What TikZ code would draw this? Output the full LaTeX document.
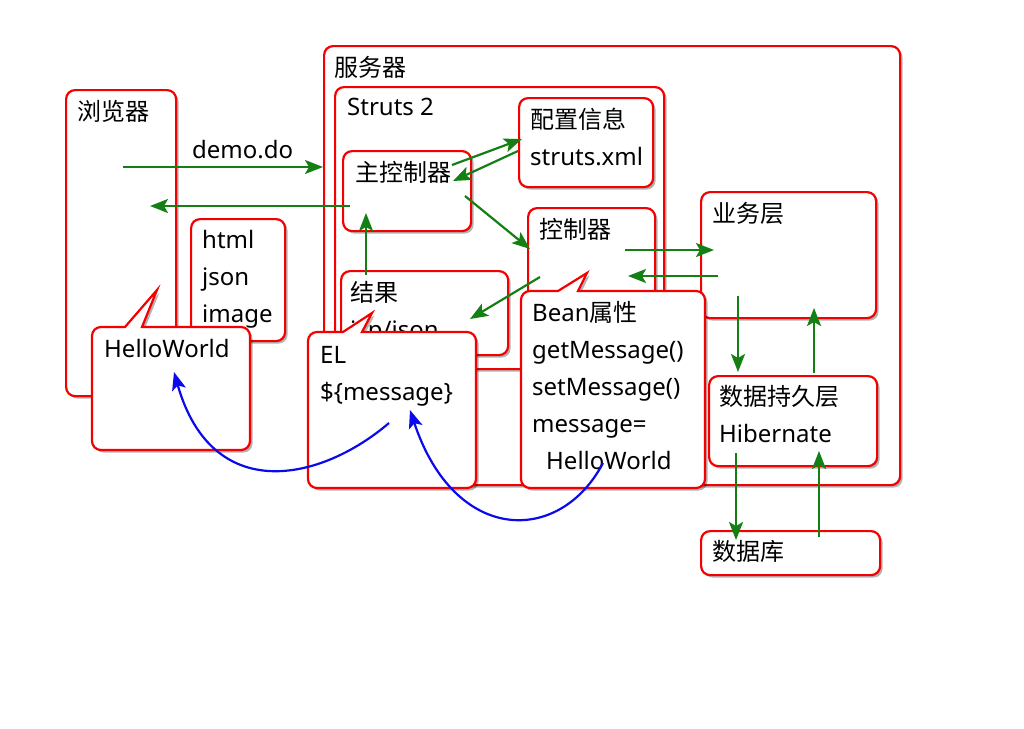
\documentclass[tikz,border=0pt]{standalone}
\usepackage{fontspec}
\setmainfont{Noto Sans}
\newfontfamily\cjk{Noto Sans CJK SC}
\usetikzlibrary{arrows.meta,shadows,positioning}

\definecolor{boxred}{RGB}{245,0,0}
\definecolor{flowgreen}{RGB}{20,128,20}
\definecolor{refblue}{RGB}{10,10,235}

\tikzset{
  box/.style={draw=boxred, line width=2.2pt, fill=white, rounded corners=9pt, anchor=north west,
    drop shadow={shadow xshift=2.5pt, shadow yshift=-2.5pt, opacity=0.3, fill=black}},
  txt/.style={anchor=base west, inner sep=0pt, align=left, font=\fontsize{24}{37}\selectfont},
  flow/.style={draw=flowgreen, line width=2.2pt, -{Stealth[length=18pt,width=14pt,inset=4pt]}},
  getref/.style={draw=refblue, line width=2.2pt, -{Stealth[length=18pt,width=14pt,inset=4pt]}},
}

\begin{document}
\begin{tikzpicture}[x=1pt,y=-1pt]
  \useasboundingbox (0,0) rectangle (1024,728);

  % server and struts
  \node[box, minimum width=576pt, minimum height=439pt] (srv) at (323,45) {};
  \node[txt] (srvt) at (334,76) {\cjk 服务器};
  \node[box, minimum width=329pt, minimum height=282pt] (struts) at (334,86) {};
  \node[txt] (strutst) at (347,115) {Struts 2};

  % browser side
  \node[box, minimum width=110pt, minimum height=306pt] (brw) at (65,89) {};
  \node[txt] (brwt) at (77,120) {\cjk 浏览器};
  \node[box, minimum width=94pt, minimum height=122pt] (fmt) at (190,218) {};
  \node[txt] (fmtt) at (202,322) {html\\json\\image};

  % inside struts
  \node[box, minimum width=128pt, minimum height=80pt] (main) at (342,150) {};
  \node[txt] (maint) at (355,181) {\cjk 主控制器};
  \node[box, minimum width=134pt, minimum height=89pt] (cfg) at (518,97) {};
  \node[txt] (cfgt) at (530,165) {{\cjk 配置信息}\\struts.xml};
  \node[box, minimum width=127pt, minimum height=110pt] (ctl) at (527,207) {};
  \node[txt] (ctlt) at (539,238) {\cjk 控制器};
  \node[box, minimum width=167pt, minimum height=84pt] (res) at (340,270) {};
  \node[txt] (rest) at (350,338) {{\cjk 结果}\\jsp/json};

  % back end
  \node[box, minimum width=175pt, minimum height=126pt] (biz) at (700,191) {};
  \node[txt] (bizt) at (712,222) {\cjk 业务层};
  \node[box, minimum width=168pt, minimum height=90pt] (dao) at (708,375) {};
  \node[txt] (daot) at (719,442) {{\cjk 数据持久层}\\Hibernate};
  \node[box, minimum width=179pt, minimum height=44pt] (db) at (700,530) {};
  \node[txt] (dbt) at (712,560) {\cjk 数据库};

  % callouts
  \draw[box] (157,290) [sharp corners] -- (142,327) [rounded corners=9pt] -- (250,327) -- (250,450) -- (92,450) -- (92,327) [sharp corners] -- (125,327) -- cycle;
  \node[txt] (hwt) at (104,357) {HelloWorld};
  \draw[box] (372,313) [sharp corners] -- (362,332) [rounded corners=9pt] -- (476,332) -- (476,488) -- (308,488) -- (308,332) [sharp corners] -- (343,332) -- cycle;
  \node[txt] (elt) at (320,400) {EL\\\$\{message\}};
  \draw[box] (587,273) [sharp corners] -- (578,291) [rounded corners=9pt] -- (705,291) -- (705,488) -- (521,488) -- (521,291) [sharp corners] -- (558,291) -- cycle;
  \node[txt] (beant) at (532,469) {Bean{\cjk 属性}\\getMessage()\\setMessage()\\message=\\\hspace{14pt}HelloWorld};

  % request / response
  \coordinate (req) at (123,167);
  \coordinate (reqin) at (323,167);
  \coordinate (resp) at (350,206);
  \coordinate (respout) at (150,206);
  \draw[flow] (req) -- (reqin);
  \node[txt] (demo) at (192,158) {demo.do};
  \draw[flow] (resp) -- (respout);
  \draw[flow] (366,275) coordinate (r1) -- (366,213) coordinate (r2);
  \draw[flow] (452,165) coordinate (c1) -- (522,139) coordinate (c2);
  \draw[flow] (518,151) coordinate (c3) -- (453,181) coordinate (c4);
  \draw[flow] (465,196) coordinate (m1) -- (530,249) coordinate (m2);
  \draw[flow] (540,277) coordinate (k1) -- (470,319) coordinate (k2);
  \draw[flow] (625,250) coordinate (b1) -- (714,250) coordinate (b2);
  \draw[flow] (718,276) coordinate (b3) -- (628,276) coordinate (b4);
  \draw[flow] (738,296) coordinate (d1) -- (738,372) coordinate (d2);
  \draw[flow] (814,373) coordinate (d3) -- (814,308) coordinate (d4);
  \draw[flow] (736,453) coordinate (s1) -- (736,540) coordinate (s2);
  \draw[flow] (819,537) coordinate (s3) -- (819,451) coordinate (s4);

  % value passing
  \draw[getref] (389,423) coordinate (e1) .. controls (320,482) and (212,505) .. (174,372) coordinate (h1);
  \draw[getref] (603,463) coordinate (v1) .. controls (560,545) and (455,545) .. (410,410) coordinate (e2);
\end{tikzpicture}
\end{document}
